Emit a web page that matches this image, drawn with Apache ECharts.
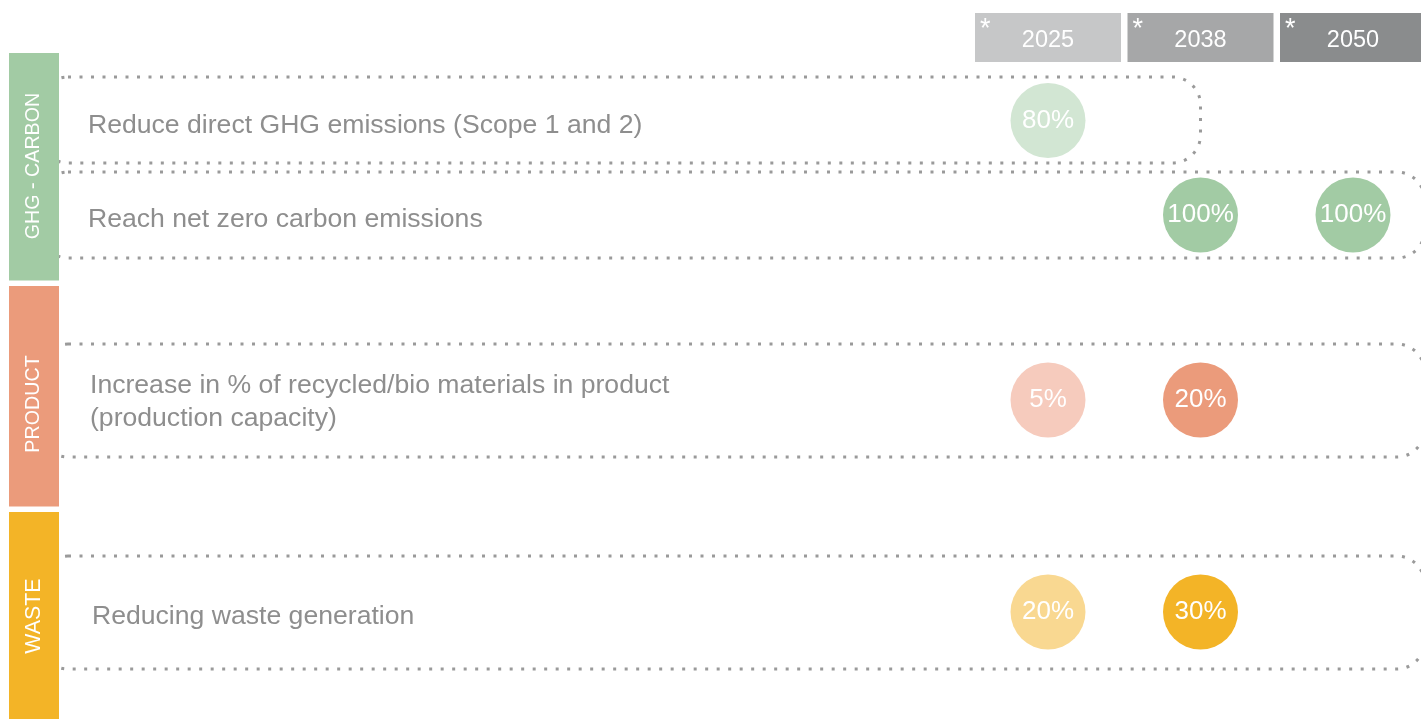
<!DOCTYPE html>
<html><head><meta charset="utf-8">
<script src="https://cdn.jsdelivr.net/npm/echarts@6/dist/echarts.min.js"></script>
<style>html,body{margin:0;padding:0;background:#fff}#c{width:1421px;height:719px}</style>
</head><body><div id="c"></div>
<script>
// ---- data ----
const years = ['2025', '2038', '2050'];
const groups = ['GHG - CARBON', 'PRODUCT', 'WASTE'];
const goalsGHG = ['Reduce direct GHG emissions (Scope 1 and 2)', 'Reach net zero carbon emissions'];
const goalsProduct = ['Increase in % of recycled/bio materials in product\n(production capacity)'];
const goalsWaste = ['Reducing waste generation'];
const targetsGHG = [['80%', null, null], [null, '100%', '100%']];
const targetsProduct = [['5%', '20%', null]];
const targetsWaste = [['20%', '30%', null]];
const frameEndGHG = [1, 2.47];
const frameEndProduct = [2.47];
const frameEndWaste = [2.47];

// ---- styles / layout ----
const FONT = '"Liberation Sans", Arial, sans-serif';
const groupColors = ['#a2cba4', '#eb9b7b', '#f3b427'];
const groupTints = ['#d2e6d3', '#f6cbbd', '#f9d891'];
const headerColors = ['#c6c7c8', '#a6a7a8', '#8a8c8d'];
const DOT = '#9a9a9a';
const AX_LEFT = 1048, AX_RIGHT = 68, TEXT_LEFT = 88, FRAME_LEFT = 40, FRAME_RATIO = 0.915, FRAME_R = 28;
const textIndent = [0, 2, 4];
const HEADER_W = 146;
const groupGrids = [{top: 73.25, height: 189}, {top: 338.5, height: 123}, {top: 550.5, height: 123}];
const headerGrid = {top: 13, height: 49};
const bars = [{top: 53, height: 227.5}, {top: 286, height: 220.5}, {top: 512, height: 215}];
const barLabelY = [166, 404, 616];
const barLabelSize = [19.7, 19.7, 21.4];

const goals = [goalsGHG, goalsProduct, goalsWaste];
const targets = [targetsGHG, targetsProduct, targetsWaste];
const frameEnds = [frameEndGHG, frameEndProduct, frameEndWaste];

const grid = groupGrids.map(g => ({left: AX_LEFT, right: AX_RIGHT, top: g.top, height: g.height}))
  .concat([{left: AX_LEFT, right: AX_RIGHT, top: headerGrid.top, height: headerGrid.height}]);

const xAxis = grid.map((g, i) => ({type: 'category', gridIndex: i, data: years, boundaryGap: false, show: false}));
const yAxis = goals.map((list, i) => ({
  type: 'category', gridIndex: i, inverse: true, data: list,
  axisLine: {show: false}, axisTick: {show: false}, splitLine: {show: false},
  axisLabel: {
    interval: 0, align: 'left', margin: AX_LEFT - TEXT_LEFT - textIndent[i],
    formatter: v => v.indexOf('\n') < 0 ? '{one|' + v + '}' : v.split('\n').map(s => '{two|' + s + '}').join('\n'),
    rich: {
      one: {fontSize: 26.6, color: '#8e8e8e', fontFamily: FONT, padding: [10, 0, 0, 0]},
      two: {fontSize: 26.6, color: '#8e8e8e', fontFamily: FONT, lineHeight: 33, padding: [4, 0, 0, 0]}
    }
  }
})).concat([{type: 'category', gridIndex: 3, data: ['year'], show: false}]);

const series = [];
goals.forEach((list, g) => {
  series.push({
    type: 'custom', xAxisIndex: g, yAxisIndex: g, silent: true, clip: false, z: 1,
    data: list.map((_, r) => [0, r, frameEnds[g][r]]),
    renderItem(params, api) {
      const r = api.value(1), span = api.value(2);
      const p0 = api.coord([0, r]), p1 = api.coord([1, r]);
      const step = p1[0] - p0[0];
      const h = api.size([0, 1])[1] * FRAME_RATIO;
      const right = p0[0] + span * step;
      return {type: 'rect', shape: {x: FRAME_LEFT, y: Math.round(p0[1] - h / 2), width: right - FRAME_LEFT, height: Math.round(h), r: FRAME_R},
        style: {fill: 'none', stroke: DOT, lineWidth: 3, lineDash: [3, 8.5], lineCap: 'butt'}};
    }
  });
  const pts = [];
  targets[g].forEach((row, r) => row.forEach((v, c) => {
    if (v != null) pts.push({name: v, value: [c, r], itemStyle: {color: c === 0 ? groupTints[g] : groupColors[g], opacity: 1}});
  }));
  series.push({
    type: 'scatter', xAxisIndex: g, yAxisIndex: g, symbol: 'circle', symbolSize: 75, silent: true, clip: false, z: 3,
    itemStyle: {opacity: 1},
    data: pts,
    label: {show: true, position: 'inside', formatter: p => p.name, color: '#fff', fontSize: 26, fontFamily: FONT}
  });
});
series.push({
  type: 'custom', xAxisIndex: 3, yAxisIndex: 3, silent: true, clip: false,
  data: years.map((y, i) => [i, 0]),
  renderItem(params, api) {
    const i = api.value(0);
    const c = api.coord([i, 0]);
    const h = api.size([0, 1])[1];
    return {type: 'group', children: [
      {type: 'rect', shape: {x: c[0] - HEADER_W / 2, y: c[1] - h / 2, width: HEADER_W, height: h}, style: {fill: headerColors[i]}},
      {type: 'text', x: c[0], y: c[1] + 3.5, style: {text: years[i], fill: '#fff', font: '23.5px ' + FONT, align: 'center', verticalAlign: 'middle'}},
      {type: 'text', x: c[0] - HEADER_W / 2 + 5, y: c[1] - h / 2 + 3, style: {text: '*', fill: '#fff', font: '27px ' + FONT, align: 'left', verticalAlign: 'top'}}
    ]};
  }
});

const graphic = bars.map((b, i) => ({type: 'rect', z: 100, silent: true, shape: {x: 9, y: b.top, width: 50, height: b.height}, style: {fill: groupColors[i]}}))
  .concat(groups.map((t, i) => ({type: 'text', z: 101, silent: true, x: 34, y: barLabelY[i], rotation: Math.PI / 2,
    style: {text: t, fill: '#fff', font: barLabelSize[i] + 'px ' + FONT, align: 'center', verticalAlign: 'middle', textAlign: 'center', textVerticalAlign: 'middle'}})));

const chart = echarts.init(document.getElementById('c'));
chart.setOption({animation: false, backgroundColor: '#fff', grid, xAxis, yAxis, series, graphic});
</script>
</body></html>
